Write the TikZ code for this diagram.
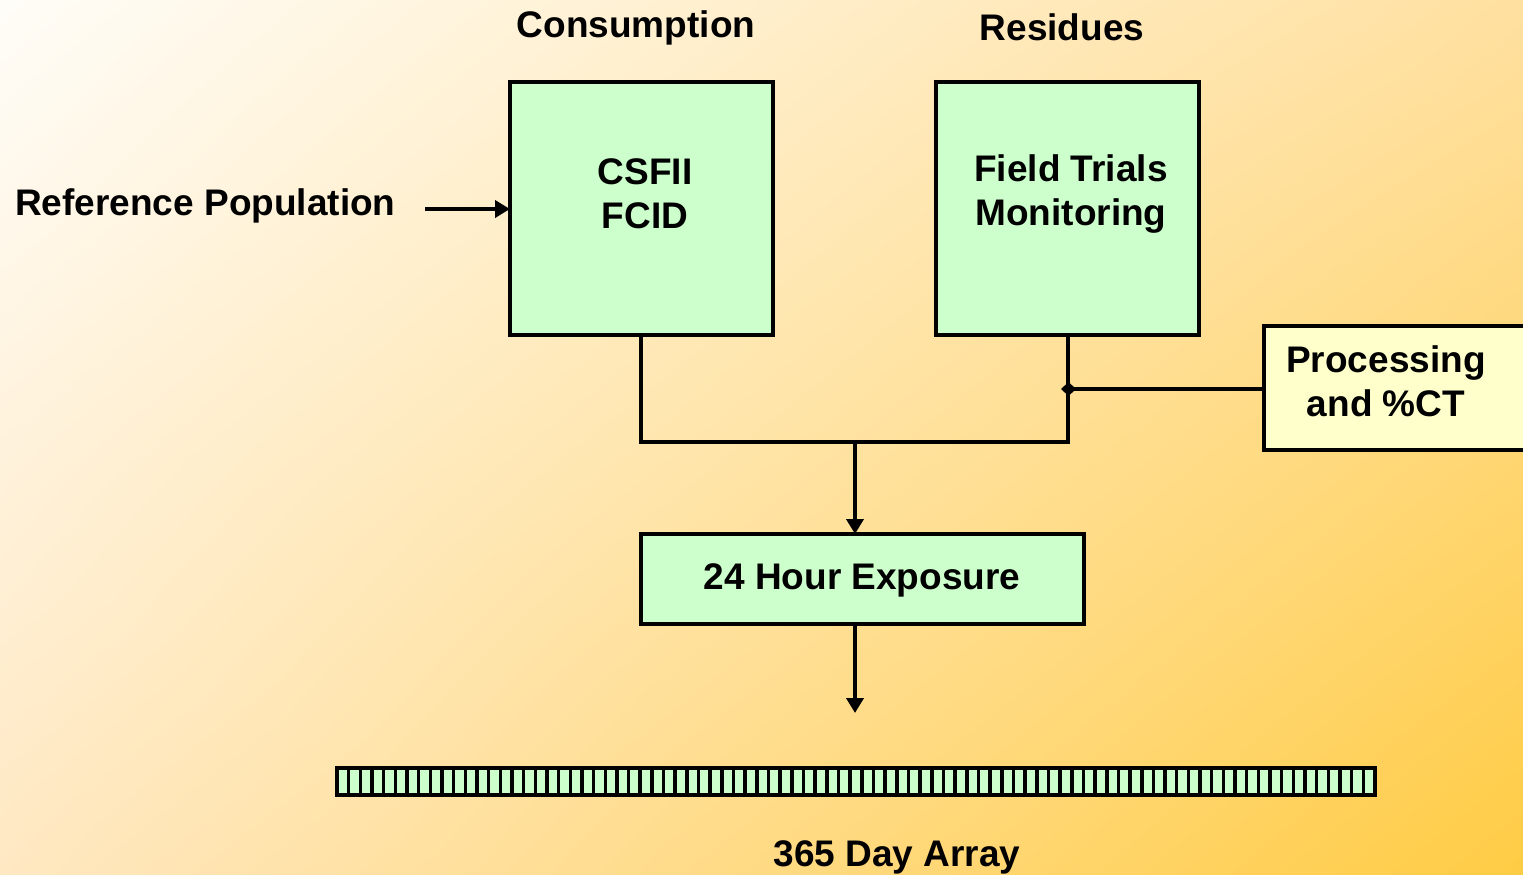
\documentclass[tikz,border=0pt]{standalone}
\usepackage{fontspec}
\setmainfont{Liberation Sans}
\usetikzlibrary{arrows.meta,shadings}
\definecolor{boxgreen}{HTML}{CCFFCC}
\definecolor{boxyellow}{HTML}{FFFFCC}
\definecolor{bgtl}{HTML}{FFFDF8}
\definecolor{bgtr}{HTML}{FFE0A0}
\definecolor{bgbl}{HTML}{FFE8C2}
\definecolor{bgbr}{HTML}{FFCC44}
\begin{document}
\begin{tikzpicture}[x=1pt,y=-1pt,
  lbl/.style={font=\bfseries\fontsize{37}{44}\selectfont, inner sep=0pt},
  boxtext/.style={font=\bfseries\fontsize{37}{44}\selectfont, align=center, inner sep=0pt},
  gbox/.style={draw=black, line width=4.5pt, fill=boxgreen, inner sep=0pt, outer sep=0pt, anchor=north west},
  ybox/.style={draw=black, line width=4.5pt, fill=boxyellow, inner sep=0pt, outer sep=0pt, anchor=north west},
  conn/.style={line width=4.5pt, line join=miter},
  arr/.style={line width=4.5pt, -{Triangle[width=17pt,length=15pt]}},
]
\useasboundingbox (0,0) rectangle (1523,875);
\shade[upper left=bgtl, upper right=bgtr, lower left=bgbl, lower right=bgbr] (0,0) rectangle (1523,875);
\begin{scope}
\clip (0,0) rectangle (1523,875);
% boxes
\node[gbox, minimum width=263pt, minimum height=253pt] (csf) at (510,82) {};
\node[gbox, minimum width=263pt, minimum height=253pt] (ft) at (936,82) {};
\node[ybox, minimum width=300pt, minimum height=124pt] (proc) at (1264,326) {};
\node[gbox, minimum width=443pt, minimum height=90pt] (exp) at (641,534) {};
% texts
\node[lbl] (cons) at (636,28) {Consumption};
\node[lbl] (res) at (1062,27) {Residues};
\node[lbl, anchor=west] (ref) at (15,206) {Reference Population};
\node[boxtext] (csft) at (645,194) {CSFII\\FCID};
\node[boxtext] (ftt) at (1071,194) {Field Trials\\Monitoring};
\node[boxtext] (proct) at (1386,381) {Processing\\and \%CT};
\node[lbl] (expt) at (862,580) {24 Hour Exposure};
\node[lbl] (arrt) at (897,857) {365 Day Array};
% connectors
\coordinate (refend) at (425,209);
\draw[arr] (refend) -- (csf.west |- refend);
\coordinate (jl) at (641,442);
\coordinate (jr) at (1068,442);
\coordinate (jm) at (855,442);
\coordinate (jp) at (1068,389);
\draw[conn] (csf.south -| jl) -- (jl) -- (jr) -- (ft.south -| jr);
\draw[arr] (jm) -- (exp.north -| jm);
\draw[line width=4.5pt, {Diamond[width=14pt,length=15pt,sep=-7pt]}-] (jp) -- (proc.west |- jp);
\coordinate (arrend) at (855,713);
\draw[arr] (exp.south -| arrend) -- (arrend);
% array
\node[draw=black, line width=3.5pt, fill=boxgreen, minimum width=1038pt, minimum height=27pt, inner sep=0pt, outer sep=0pt, anchor=north west] (array) at (337,768) {};
\foreach \i in {1,...,88} {
  \draw[line width=3.5pt] ({337+\i*11.6629},768) -- ({337+\i*11.6629},795);
}
\end{scope}
\end{tikzpicture}
\end{document}
